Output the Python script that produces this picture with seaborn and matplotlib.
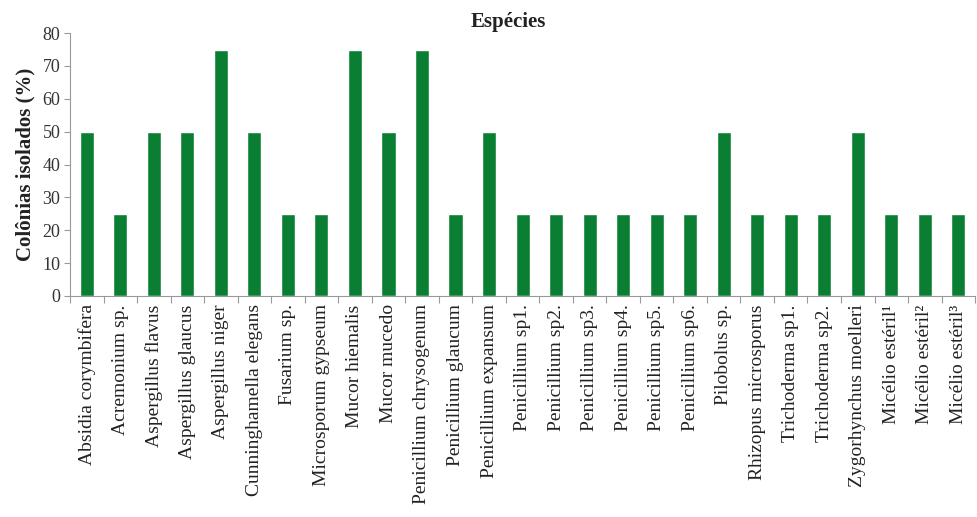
import matplotlib
matplotlib.use("Agg")
import matplotlib.pyplot as plt
import seaborn as sns
import pandas as pd
import numpy as np

species = [
    "Absidia corymbifera", "Acremonium sp.", "Aspergillus flavus", "Aspergillus glaucus",
    "Aspergillus niger", "Cunninghamella elegans", "Fusarium sp.", "Microsporum gypseum",
    "Mucor hiemalis", "Mucor mucedo", "Penicillium chrysogenum", "Penicillium glaucum",
    "Penicillium expansum", "Penicillium sp1.", "Penicillium sp2.", "Penicillium sp3.",
    "Penicillium sp4.", "Penicillium sp5.", "Penicillium sp6.", "Pilobolus sp.",
    "Rhizopus microsporus", "Trichoderma sp1.", "Trichoderma sp2.", "Zygorhynchus moelleri",
    "Micélio estéril¹", "Micélio estéril²", "Micélio estéril³",
]
values = [50, 25, 50, 50, 75, 50, 25, 25, 75, 50, 75, 25, 50, 25, 25, 25, 25, 25, 25, 50,
          25, 25, 25, 50, 25, 25, 25]

sns.set_theme(style="white")
plt.rcParams['font.family'] = ['Liberation Serif', 'DejaVu Serif']

df = pd.DataFrame({"Espécie": species, "Valor": values})

fig = plt.figure(figsize=(9.78, 5.17), dpi=100)
ax = fig.add_axes([0.0716, 0.4275, 0.9254, 0.5085])
sns.barplot(data=df, x="Espécie", y="Valor", color="#0a7f33", saturation=1,
            width=0.42, ax=ax)

ax.set_ylim(0, 80)
ax.set_yticks(range(0, 81, 10))
ax.set_xlim(-0.5, len(species) - 0.5)
ax.set_xlabel("")
ax.set_ylabel("Colônias isolados (%)", fontsize=15, fontweight="bold", color="#222222", labelpad=5)
fig.text(0.52, 0.957, "Espécies", fontsize=15, fontweight="bold", color="#222222",
         ha="center", va="center")

ax.tick_params(axis="y", labelsize=13, colors="#333333", length=4, width=0.8, direction="out", left=True, pad=3)
ax.tick_params(axis="y", color="#999999")
ax.tick_params(axis="x", labelsize=14, colors="#222222", length=0, pad=6, labelrotation=90)

ax.set_xticks(np.arange(-0.5, len(species), 1.0), minor=True)
ax.tick_params(axis="x", which="minor", length=5, width=0.8, color="#999999", bottom=True)

for s in ["top", "right"]:
    ax.spines[s].set_visible(False)
for s in ["left", "bottom"]:
    ax.spines[s].set_color("#999999")
    ax.spines[s].set_linewidth(0.8)

fig.savefig("out.png", dpi=100)
